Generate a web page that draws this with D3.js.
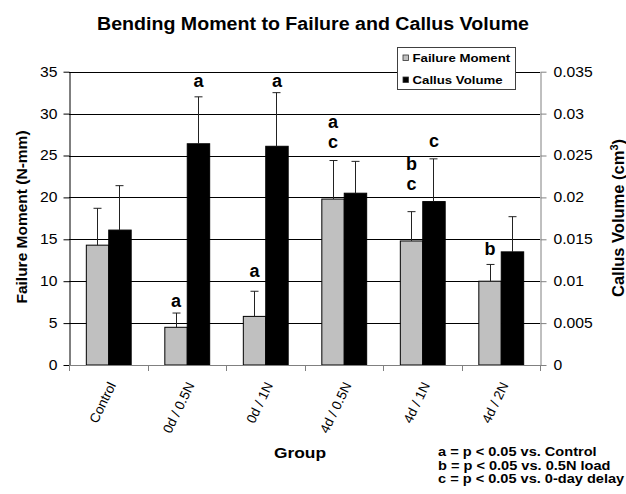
<!DOCTYPE html>
<html>
<head>
<meta charset="utf-8">
<script src="https://cdn.jsdelivr.net/npm/d3@7"></script>
<style>
  body { margin: 0; background: #fff; }
  text { font-family: "Liberation Sans", Arial, sans-serif; fill: #000; }
</style>
</head>
<body>
<div id="chart"></div>
<script>
// Bending moment to failure and callus volume, grouped bars with one-sided error bars

// Groups along the x axis
const groups = ['Control', '0d / 0.5N', '0d / 1N', '4d / 0.5N', '4d / 1N', '4d / 2N'];

// Failure moment (N-mm), mean and mean + SD
const momentValues = [14.3, 4.5, 5.8, 19.8, 14.8, 10.0];
const momentErrTop = [18.7, 6.2, 8.8, 24.4, 18.3, 12.0];

// Callus volume (cm3), mean and mean + SD
const volumeValues = [0.0161, 0.0264, 0.0261, 0.0205, 0.0195, 0.0135];
const volumeErrTop = [0.0214, 0.0320, 0.0325, 0.0243, 0.0246, 0.0177];

// Tick values for both axes
const leftTicks = [0, 5, 10, 15, 20, 25, 30, 35];
const rightTicks = [0, 0.005, 0.01, 0.015, 0.02, 0.025, 0.03, 0.035];

// Significance letters: group, bar, letter, level on the left axis (N-mm)
const sigLetters = [
  ['0d / 0.5N', 'moment', 'a', 6.9],
  ['0d / 0.5N', 'volume', 'a', 33.2],
  ['0d / 1N', 'moment', 'a', 10.5],
  ['0d / 1N', 'volume', 'a', 33.2],
  ['4d / 0.5N', 'moment', 'a', 28.3],
  ['4d / 0.5N', 'moment', 'c', 25.9],
  ['4d / 1N', 'moment', 'b', 23.3],
  ['4d / 1N', 'moment', 'c', 20.9],
  ['4d / 1N', 'volume', 'c', 26.0],
  ['4d / 2N', 'moment', 'b', 13.1]
];

const seriesKeys = ['moment', 'volume'];
const seriesNames = ['Failure Moment', 'Callus Volume'];
const seriesColors = { moment: '#c0c0c0', volume: '#000000' };

const footnotes = [
  'a = p < 0.05 vs. Control',
  'b = p < 0.05 vs. 0.5N load',
  'c = p < 0.05 vs. 0-day delay'
];

// The original picture is a little wider than tall, so text is stretched
const textStretch = 1.12;
function stretch(sel) {
  sel.each(function() {
    const len = this.getComputedTextLength();
    d3.select(this)
      .attr('textLength', len * textStretch)
      .attr('lengthAdjust', 'spacingAndGlyphs');
  });
}

const W = 626, H = 494;
const plot = { left: 69, right: 540, top: 71.7, bottom: 365 };

const svg = d3.select('#chart')
  .append('svg')
  .attr('width', W)
  .attr('height', H);

svg.append('rect').attr('width', W).attr('height', H).attr('fill', '#fff');

// Scales
const x = d3.scaleBand()
  .domain(groups)
  .range([plot.left, plot.right])
  .padding(0);

const xSub = d3.scaleBand()
  .domain(seriesKeys)
  .range([0, x.bandwidth()])
  .paddingInner(0)
  .paddingOuter(0.75);

const yLeft = d3.scaleLinear().domain([0, 35]).range([plot.bottom, plot.top]);
const yRight = d3.scaleLinear().domain([0, 0.035]).range([plot.bottom, plot.top]);

// Horizontal gridlines
svg.append('g')
  .selectAll('line')
  .data(leftTicks.filter(d => d > 0))
  .enter()
  .append('line')
  .attr('x1', plot.left)
  .attr('x2', plot.right)
  .attr('y1', d => Math.round(yLeft(d)) + 0.5)
  .attr('y2', d => Math.round(yLeft(d)) + 0.5)
  .attr('stroke', '#000')
  .attr('stroke-width', 1);

// Left axis
const leftAxis = svg.append('g')
  .attr('transform', `translate(${plot.left + 0.5}, 0)`)
  .call(d3.axisLeft(yLeft).tickValues(leftTicks).tickSizeInner(6).tickSizeOuter(0).tickPadding(6));
leftAxis.select('.domain').attr('stroke', '#000');
leftAxis.selectAll('.tick line').attr('stroke', '#000');
leftAxis.selectAll('.tick text')
  .style('font-size', '14px')
  .attr('fill', '#000')
  .call(stretch);

// Right axis
const rightAxis = svg.append('g')
  .attr('transform', `translate(${plot.right + 0.5}, 0)`)
  .call(d3.axisRight(yRight).tickValues(rightTicks).tickFormat(d => d === 0 ? '0' : String(+d.toFixed(3)))
    .tickSizeInner(6).tickSizeOuter(0).tickPadding(7));
rightAxis.select('.domain').attr('stroke', '#808080');
rightAxis.selectAll('.tick line').attr('stroke', '#808080');
rightAxis.selectAll('.tick text')
  .style('font-size', '14px')
  .attr('fill', '#000')
  .call(stretch);

// Bars
const bars = [];
groups.forEach((g, i) => {
  bars.push({ group: g, key: 'moment', y: yLeft(momentValues[i]), err: yLeft(momentErrTop[i]) });
  bars.push({ group: g, key: 'volume', y: yRight(volumeValues[i]), err: yRight(volumeErrTop[i]) });
});
const barX = d => x(d.group) + xSub(d.key);

svg.append('g')
  .selectAll('rect')
  .data(bars)
  .enter()
  .append('rect')
  .attr('x', d => barX(d) + 0.5)
  .attr('y', d => d.y)
  .attr('width', xSub.bandwidth())
  .attr('height', d => plot.bottom - d.y)
  .attr('fill', d => seriesColors[d.key])
  .attr('stroke', '#000')
  .attr('stroke-width', 1);

// One-sided error bars
const errG = svg.append('g').attr('stroke', '#222').attr('stroke-width', 1);
bars.forEach(d => {
  const cx = Math.round(barX(d) + xSub.bandwidth() / 2) + 0.5;
  errG.append('line').attr('x1', cx).attr('x2', cx).attr('y1', d.y).attr('y2', d.err);
  errG.append('line').attr('x1', cx - 4).attr('x2', cx + 4).attr('y1', d.err).attr('y2', d.err);
});

// Bottom axis with ticks between groups
const bottomG = svg.append('g');
bottomG.append('line')
  .attr('x1', plot.left).attr('x2', plot.right)
  .attr('y1', plot.bottom + 0.5).attr('y2', plot.bottom + 0.5)
  .attr('stroke', '#808080');
bottomG.selectAll('.xtick')
  .data(groups.map(g => x(g)).concat([plot.right]))
  .enter()
  .append('line')
  .attr('x1', d => Math.round(d) + 0.5)
  .attr('x2', d => Math.round(d) + 0.5)
  .attr('y1', plot.bottom)
  .attr('y2', plot.bottom + 6)
  .attr('stroke', '#808080');

// Rotated group labels
bottomG.selectAll('.xlabel')
  .data(groups)
  .enter()
  .append('text')
  .attr('transform', g => `translate(${x(g) + x.bandwidth() / 2 + 8}, 385) rotate(-64)`)
  .attr('text-anchor', 'end')
  .style('font-size', '13.5px')
  .text(g => g);

// Significance letters, stacked letters of one bar share a text element
const letterGroups = d3.groups(sigLetters, d => d[0] + '|' + d[1]);
const letterText = svg.append('g')
  .selectAll('text')
  .data(letterGroups)
  .enter()
  .append('text')
  .attr('text-anchor', 'middle')
  .style('font-size', '18px')
  .style('font-weight', 'bold');
letterText.selectAll('tspan')
  .data(d => d[1])
  .enter()
  .append('tspan')
  .attr('x', d => x(d[0]) + xSub(d[1]) + xSub.bandwidth() / 2 + 0.5)
  .attr('y', d => yLeft(d[3]))
  .text(d => d[2]);

// Legend
const legend = svg.append('g').attr('transform', 'translate(397.5, 47.5)');
legend.append('rect')
  .attr('width', 118)
  .attr('height', 42)
  .attr('fill', '#fff')
  .attr('stroke', '#404040')
  .attr('stroke-width', 1);
const legendItems = legend.selectAll('.legend-item')
  .data(seriesKeys)
  .enter()
  .append('g')
  .attr('transform', (d, i) => `translate(0, ${14.5 + i * 22})`);
legendItems.append('rect')
  .attr('x', 5.5)
  .attr('y', -7)
  .attr('width', 5.5)
  .attr('height', 5.5)
  .attr('fill', d => seriesColors[d])
  .attr('stroke', '#333')
  .attr('stroke-width', 0.8);
legendItems.append('text')
  .attr('x', 15)
  .attr('y', 0)
  .style('font-size', '11.8px')
  .style('font-weight', 'bold')
  .text((d, i) => seriesNames[i])
  .call(stretch);

// Chart title
svg.append('text')
  .attr('x', W / 2)
  .attr('y', 29.5)
  .attr('text-anchor', 'middle')
  .style('font-size', '17.5px')
  .style('font-weight', 'bold')
  .text('Bending Moment to Failure and Callus Volume')
  .call(stretch);

// Axis titles
svg.append('text')
  .attr('transform', 'translate(27, 217) rotate(-90)')
  .attr('text-anchor', 'middle')
  .style('font-size', '15.5px')
  .style('font-weight', 'bold')
  .text('Failure Moment (N-mm)');

const rightTitle = svg.append('text')
  .attr('transform', 'translate(624, 218) rotate(-90)')
  .attr('text-anchor', 'middle')
  .style('font-size', '16.5px')
  .style('font-weight', 'bold');
rightTitle.append('tspan').text('Callus Volume (cm');
rightTitle.append('tspan').attr('dy', -6).style('font-size', '11px').text('3');
rightTitle.append('tspan').attr('dy', 6).text(')');

svg.append('text')
  .attr('x', 300)
  .attr('y', 458)
  .attr('text-anchor', 'middle')
  .style('font-size', '15.5px')
  .style('font-weight', 'bold')
  .text('Group')
  .call(stretch);

// Significance key
svg.append('g')
  .selectAll('text')
  .data(footnotes)
  .enter()
  .append('text')
  .attr('x', 438)
  .attr('y', (d, i) => 456 + i * 13.7)
  .style('font-size', '13px')
  .style('font-weight', 'bold')
  .text(d => d)
  .call(stretch);
</script>
</body>
</html>
